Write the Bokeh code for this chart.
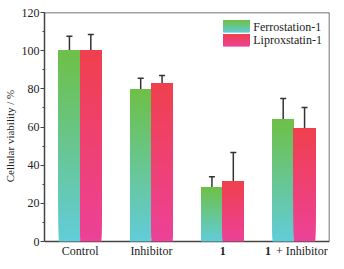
from bokeh.plotting import figure
from bokeh.models import Range1d, Whisker, ColumnDataSource, TeeHead, FixedTicker
from bokeh.core.properties import value
from bokeh.embed import file_html
from bokeh.resources import INLINE

categories = ["Control", "Inhibitor", "1", "1 + Inhibitor"]
series_names = ["Ferrostation-1", "Liproxstatin-1"]
ferro = [100, 79.5, 28.5, 64]
ferro_err = [7.5, 6, 5.5, 11]
lipro = [100, 83, 31.6, 59.2]
lipro_err = [8.5, 4, 15, 11]
y_ticks = [0, 20, 40, 60, 80, 100, 120]

FONT = "Liberation Serif"
TXT = "#222222"
AX = "#444444"
grad_green = ((110, 192, 70), (98, 204, 218))   # top, bottom
grad_pink = ((240, 64, 78), (236, 66, 152))
N = 48
BW = 0.3
YMIN = -9.4

def mix(c0, c1, t):
    return "#%02x%02x%02x" % tuple(int(round(a + (b - a) * t)) for a, b in zip(c0, c1))

p = figure(frame_width=285, frame_height=247, output_backend="svg", toolbar_location=None,
           x_range=Range1d(0, 4), y_range=Range1d(YMIN, 120),
           min_border_left=42, min_border_right=4, min_border_top=12, min_border_bottom=0)
p.grid.visible = False
p.outline_line_color = None
p.xaxis.visible = False

ya = p.yaxis[0]
ya.bounds = (0, 120)
ya.ticker = FixedTicker(ticks=y_ticks, minor_ticks=list(range(0, 121, 10)))
ya.axis_line_color = AX
ya.axis_line_width = 1.5
ya.major_tick_out = 4
ya.major_tick_in = 0
ya.minor_tick_out = 2
ya.minor_tick_in = 0
ya.major_tick_line_color = AX
ya.minor_tick_line_color = AX
ya.major_label_text_font = FONT
ya.major_label_text_font_size = "12px"
ya.major_label_text_color = TXT
ya.major_label_standoff = 1
ya.axis_label = "Cellular viability / %"
ya.axis_label_text_font = FONT
ya.axis_label_text_font_style = "normal"
ya.axis_label_text_font_size = "11px"
ya.axis_label_text_color = TXT
ya.axis_label_standoff = 3

# frame box (bottom, top, right) at the data limits
p.segment(x0=[0, 0, 4], y0=[0, 120, 0], x1=[4, 4, 4], y1=[0, 120, 120],
          line_color=AX, line_width=1.5)

def grad_stack(x0s, x1s, bottoms, tops, grad):
    l, r, b, t, c = [], [], [], [], []
    for x0, x1, y0, y1 in zip(x0s, x1s, bottoms, tops):
        for i in range(N):
            l.append(x0); r.append(x1)
            b.append(y0 + (y1 - y0) * i / N); t.append(y1)
            c.append(mix(grad[1], grad[0], (i + 0.5) / N))
    p.quad(left=l, right=r, bottom=b, top=t, fill_color=c, line_color=None)

x_f = [i + 0.5 - BW / 2 for i in range(len(categories))]
x_l = [i + 0.5 + BW / 2 for i in range(len(categories))]
grad_stack([x - BW / 2 for x in x_f], [x + BW / 2 for x in x_f], [0] * 4, ferro, grad_green)
grad_stack([x - BW / 2 for x in x_l], [x + BW / 2 for x in x_l], [0] * 4, lipro, grad_pink)

for xs, vals, errs in ((x_f, ferro, ferro_err), (x_l, lipro, lipro_err)):
    src = ColumnDataSource(dict(x=xs, lo=vals, hi=[v + e for v, e in zip(vals, errs)]))
    w = Whisker(base="x", lower="lo", upper="hi", source=src,
                line_color="#333333", line_width=1.5,
                upper_head=TeeHead(size=6, line_color="#333333", line_width=1.5),
                lower_head=None)
    p.add_layout(w)

# legend with gradient swatches
leg_x0, leg_x1 = 2.51, 2.875
for k, (name, grad) in enumerate(zip(series_names, (grad_green, grad_pink))):
    ytop = 115.8 - k * 7.3
    ybot = ytop - 6.3
    grad_stack([leg_x0], [leg_x1], [ybot], [ytop], grad)
    p.text(x=[2.93], y=[(ytop + ybot) / 2], text=[name], text_font=value(FONT),
           text_font_size="12px", text_baseline="middle", text_color=TXT)

# category labels
LY = -5.0
xc = [i + 0.5 for i in range(len(categories))]
plain_x, plain_t, bold_x, bold_t = [], [], [], []
for x, cat in zip(xc, categories):
    if cat == "1":
        bold_x.append(x); bold_t.append("1")
    else:
        plain_x.append(x); plain_t.append(cat)
p.text(x=plain_x[:2], y=[LY] * 2, text=plain_t[:2], text_font=value(FONT),
       text_font_size="12px", text_align="center", text_baseline="middle", text_color=TXT)
p.text(x=bold_x, y=[LY] * len(bold_x), text=bold_t, text_font=value(FONT),
       text_font_style="bold", text_font_size="12px", text_align="center",
       text_baseline="middle", text_color=TXT)
# "1 + Inhibitor": bold "1" followed by plain "+ Inhibitor"
x4 = xc[3]
p.text(x=[x4], y=[LY], text=["1"], x_offset=-23, text_font=value(FONT),
       text_font_style="bold", text_font_size="12px", text_align="right",
       text_baseline="middle", text_color=TXT)
p.text(x=[x4], y=[LY], text=[categories[3][2:]], x_offset=-18, text_font=value(FONT),
       text_font_size="12px", text_align="left", text_baseline="middle", text_color=TXT)

open("out.html", "w").write(file_html(p, INLINE))
